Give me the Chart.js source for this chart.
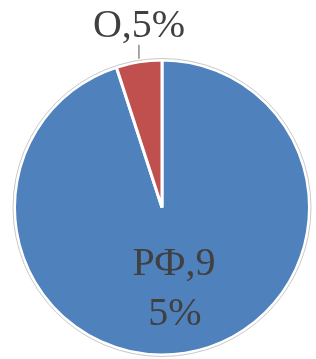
<!DOCTYPE html>
<html>
<head>
<meta charset="utf-8">
<script src="https://cdn.jsdelivr.net/npm/chart.js@4"></script>
<style>
  html, body { margin: 0; padding: 0; background: #ffffff; }
  #grafico { display: block; }
</style>
</head>
<body>
<canvas id="grafico" width="316" height="359"></canvas>
<script>
// Datos de la gráfica
const categorias = ["РФ", "О"];
const valores = [95, 5];
const colores = ["#4F81BD", "#C0504D"];

// Etiquetas tal como aparecen (con salto de línea)
const etiquetas = [["РФ,9", "5%"], ["О,5%"]];

// Plugin para contorno gris y etiquetas
const etiquetasPlugin = {
  id: "etiquetasPie",
  afterDatasetsDraw(chart) {
    const ctx = chart.ctx;
    const arcs = chart.getDatasetMeta(0).data;
    const cx = arcs[0].x;
    const cy = arcs[0].y;
    const r = arcs[0].outerRadius;

    // contorno exterior gris
    ctx.save();
    ctx.beginPath();
    ctx.arc(cx, cy, r + 1.5, 0, Math.PI * 2);
    ctx.strokeStyle = "#c8c8c8";
    ctx.lineWidth = 1;
    ctx.stroke();

    ctx.font = "40px 'Liberation Serif', 'Times New Roman', serif";
    ctx.fillStyle = "#404040";
    ctx.textAlign = "center";
    ctx.textBaseline = "alphabetic";

    // etiqueta dentro del sector grande
    ctx.fillText(etiquetas[0][0], cx + 12, cy + 67);
    ctx.fillText(etiquetas[0][1], cx + 13, cy + 117);

    // etiqueta del sector pequeño con línea guía
    const mid = (arcs[1].startAngle + arcs[1].endAngle) / 2;
    const px = cx + Math.cos(mid) * r;
    const py = cy + Math.sin(mid) * r;
    ctx.beginPath();
    ctx.moveTo(px, py - 3);
    ctx.lineTo(px, py - 17);
    ctx.strokeStyle = "#8c8c8c";
    ctx.lineWidth = 1.5;
    ctx.stroke();
    ctx.fillText(etiquetas[1][0], 139, 37);
    ctx.restore();
  },
};

const config = {
  type: "pie",
  data: {
    labels: categorias,
    datasets: [
      {
        data: valores,
        backgroundColor: colores,
        borderColor: "#ffffff",
        borderWidth: 3,
      },
    ],
  },
  options: {
    responsive: false,
    animation: false,
    rotation: 0,
    layout: {
      padding: { left: 13, right: 5, top: 58, bottom: 2 },
    },
    plugins: {
      legend: { display: false },
      tooltip: { enabled: false },
    },
  },
  plugins: [etiquetasPlugin],
};

const graficoPie = new Chart(document.getElementById("grafico"), config);
</script>
</body>
</html>
